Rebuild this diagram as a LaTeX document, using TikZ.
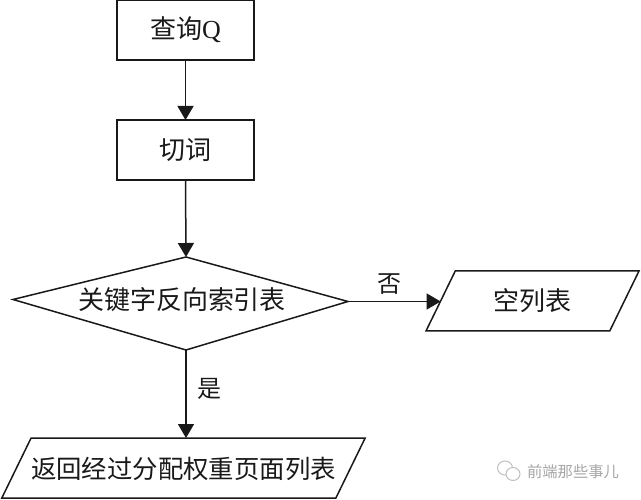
\documentclass[tikz,border=0pt]{standalone}
\usepackage{fontspec}
\setmainfont{Noto Sans CJK SC}
\newfontfamily\latinserif{Liberation Serif}
\usetikzlibrary{shapes.geometric,arrows.meta}
\tikzset{
  every node/.style={font=\fontsize{26}{28}\selectfont,text=black!90,inner sep=0pt,outer sep=0pt},
  boxnode/.style={draw=black!90,line width=1.5pt,minimum width=137pt,minimum height=60pt},
  decide/.style={draw=black!90,line width=1.5pt,line join=miter},
  slant/.style={draw=black!90,line width=1.5pt,trapezium,trapezium left angle=64,trapezium right angle=116,trapezium stretches body=true,text height=40pt,text depth=20pt},
  flow/.style={draw=black!90,line width=1.5pt,-{Triangle[length=14pt,width=16pt]}},
  mark label/.style={font=\fontsize{24}{26}\selectfont},
  water/.style={font=\fontsize{15.3}{17}\selectfont,text=black!35},
  waterline/.style={draw=black!25,line width=1pt}
}
\begin{document}
\begin{tikzpicture}[x=1pt,y=-1pt]
\useasboundingbox (0,0) rectangle (641,500);
\node[boxnode] (q) at (185.5,30) {查询{\latinserif Q}};
\node[boxnode] (c) at (185.5,150) {切词};
\coordinate (dtop) at (186,257);
\coordinate (dleft) at (13,299.5);
\coordinate (dright) at (348,301.5);
\coordinate (dbot) at (186,350);
\draw[decide] (dtop) -- (dright) -- (dbot) -- (dleft) -- cycle;
\node (d) at (182,300) {关键字反向索引表};
\node[slant,minimum width=213pt] (e) at (532.5,301) {空列表};
\node[slant,minimum width=363pt,font=\fontsize{25.4}{27}\selectfont] (r) at (183.5,468) {返回经过分配权重页面列表};
\draw[flow] (q) -- (c);
\draw[flow] (c.south) -- (dtop);
\draw[flow] (dright) -- (dright -| e.left side);
\draw[flow] (dbot) -- (dbot |- r.top side);
\node[mark label] (no) at (389,284) {否};
\node[mark label] (yes) at (209,389) {是};
\node[water] (w) at (573,472) {前端那些事儿};
\draw[waterline] (505,468) ellipse (7.5pt and 7pt);
\draw[waterline,fill=white] (513,474) ellipse (7pt and 6.5pt);
\end{tikzpicture}
\end{document}
